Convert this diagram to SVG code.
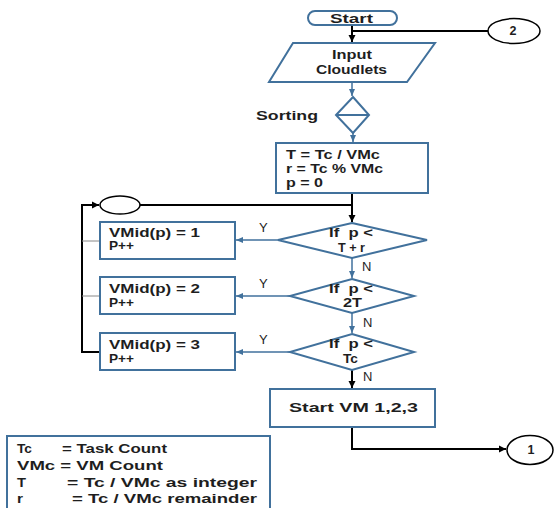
<svg xmlns="http://www.w3.org/2000/svg" width="554" height="508" viewBox="0 0 554 508">
<style>
.box{fill:#fff;stroke:#41719c;stroke-width:2}
.cn{fill:#fff;stroke:#000;stroke-width:1.5}
.t{font-family:"Liberation Sans",Arial,sans-serif;font-weight:bold;font-size:12.5px;fill:#1e1e1e}
.yn{font-family:"Liberation Sans",Arial,sans-serif;font-size:13px;fill:#1e1e1e}
.k{fill:none;stroke:#000;stroke-width:2}
.b{fill:none;stroke:#41719c;stroke-width:1.5}
.g{fill:none;stroke:#888;stroke-width:1}
</style>
<defs>
<marker id="ak" markerUnits="userSpaceOnUse" markerWidth="8" markerHeight="8" refX="7" refY="4" orient="auto"><path d="M0,0.5 L7,4 L0,7.5 z" fill="#000"/></marker>
<marker id="ab" markerUnits="userSpaceOnUse" markerWidth="8" markerHeight="8" refX="7" refY="4" orient="auto"><path d="M0,1 L7,4 L0,7 z" fill="#41719c"/></marker>
</defs>
<rect width="554" height="508" fill="#fff"/>
<g id="connectors">
<path class="k" d="M352,25 V42" marker-end="url(#ak)"/>
<path class="k" d="M488,31 H352"/>
<path class="b" d="M352,82 V96" marker-end="url(#ab)"/>
<path class="b" d="M353,133 V142" marker-end="url(#ab)"/>
<path class="k" d="M352,193 V222" marker-end="url(#ak)"/>
<path class="k" d="M140,205 H352"/>
<path class="k" d="M100,352 H82 V205 H99" marker-end="url(#ak)"/>
<path class="g" d="M82,241 H100 M82,296 H100"/>
<path class="b" d="M278,240 H236" marker-end="url(#ab)"/>
<path class="b" d="M290,296 H236" marker-end="url(#ab)"/>
<path class="b" d="M290,352 H236" marker-end="url(#ab)"/>
<path class="b" d="M352,258 V278" marker-end="url(#ab)"/>
<path class="b" d="M352,313 V333" marker-end="url(#ab)"/>
<path class="k" d="M352,370 V388" marker-end="url(#ak)"/>
<path class="k" d="M352,427 V449 H506" marker-end="url(#ak)"/>
<text class="yn" x="259" y="232">Y</text>
<text class="yn" x="259" y="288">Y</text>
<text class="yn" x="259" y="344">Y</text>
<text class="yn" x="362" y="271">N</text>
<text class="yn" x="363" y="327">N</text>
<text class="yn" x="363" y="381">N</text>
</g>
<g id="start">
<rect class="box" x="308" y="11" width="89" height="14" rx="7"/>
<text class="t" x="330" y="23" font-size="14" textLength="43" lengthAdjust="spacingAndGlyphs">Start</text>
</g>
<g id="conn2">
<ellipse class="cn" cx="514" cy="31" rx="26" ry="12.5"/>
<text class="t" x="513" y="35" font-size="13" text-anchor="middle">2</text>
</g>
<g id="input">
<path class="box" d="M293,43 H435 L407,82 H269 Z"/>
<text class="t" x="332" y="59" textLength="40" lengthAdjust="spacingAndGlyphs">Input</text>
<text class="t" x="316" y="74" textLength="71" lengthAdjust="spacingAndGlyphs">Cloudlets</text>
</g>
<g id="sorting">
<path class="box" d="M353,97 L369,115 L353,133 L336,115 Z M336,115 H369"/>
<text class="t" x="256" y="120" font-size="13" textLength="62" lengthAdjust="spacingAndGlyphs">Sorting</text>
</g>
<g id="init">
<rect class="box" x="276" y="143" width="152" height="50"/>
<text class="t" x="286" y="159" textLength="94" lengthAdjust="spacingAndGlyphs">T = Tc / VMc</text>
<text class="t" x="286" y="173" textLength="97" lengthAdjust="spacingAndGlyphs">r = Tc % VMc</text>
<text class="t" x="286" y="187" textLength="37" lengthAdjust="spacingAndGlyphs">p = 0</text>
</g>
<g id="merge">
<ellipse class="cn" cx="120" cy="205" rx="20" ry="9"/>
</g>
<g id="dec1">
<path class="box" d="M352,223 L427,240 L352,258 L278,240 Z"/>
<text class="t" x="329" y="237" textLength="44" lengthAdjust="spacingAndGlyphs">If&#160; p &lt;</text>
<text class="t" x="338" y="252" textLength="27" lengthAdjust="spacingAndGlyphs">T + r</text>
</g>
<g id="dec2">
<path class="box" d="M352,279 L414,296 L352,313 L290,296 Z"/>
<text class="t" x="329" y="293" textLength="44" lengthAdjust="spacingAndGlyphs">If&#160; p &lt;</text>
<text class="t" x="343" y="307" textLength="19" lengthAdjust="spacingAndGlyphs">2T</text>
</g>
<g id="dec3">
<path class="box" d="M352,334 L414,352 L352,370 L290,352 Z"/>
<text class="t" x="329" y="348" textLength="44" lengthAdjust="spacingAndGlyphs">If&#160; p &lt;</text>
<text class="t" x="343" y="363" textLength="15" lengthAdjust="spacingAndGlyphs">Tc</text>
</g>
<g id="vm1">
<rect class="box" x="100" y="222" width="135" height="37"/>
<text class="t" x="109" y="237" textLength="91" lengthAdjust="spacingAndGlyphs">VMid(p) = 1</text>
<text class="t" x="109" y="250" textLength="25" lengthAdjust="spacingAndGlyphs">P++</text>
</g>
<g id="vm2">
<rect class="box" x="100" y="277" width="135" height="37"/>
<text class="t" x="109" y="293" textLength="91" lengthAdjust="spacingAndGlyphs">VMid(p) = 2</text>
<text class="t" x="109" y="307" textLength="25" lengthAdjust="spacingAndGlyphs">P++</text>
</g>
<g id="vm3">
<rect class="box" x="100" y="333" width="135" height="37"/>
<text class="t" x="109" y="349" textLength="91" lengthAdjust="spacingAndGlyphs">VMid(p) = 3</text>
<text class="t" x="109" y="363" textLength="25" lengthAdjust="spacingAndGlyphs">P++</text>
</g>
<g id="startvm">
<rect class="box" x="270" y="389" width="165" height="38"/>
<text class="t" x="289" y="412" font-size="13" textLength="129" lengthAdjust="spacingAndGlyphs">Start VM 1,2,3</text>
</g>
<g id="conn1">
<ellipse class="cn" cx="530" cy="450" rx="23" ry="14.5"/>
<text class="t" x="531" y="454" font-size="13" text-anchor="middle">1</text>
</g>
<g id="legend">
<rect class="box" x="7" y="436" width="263" height="80"/>
<text class="t" x="17" y="453" textLength="15" lengthAdjust="spacingAndGlyphs">Tc</text>
<text class="t" x="62" y="453" textLength="105" lengthAdjust="spacingAndGlyphs">= Task Count</text>
<text class="t" x="17" y="470" textLength="146" lengthAdjust="spacingAndGlyphs">VMc = VM Count</text>
<text class="t" x="17" y="487" textLength="9" lengthAdjust="spacingAndGlyphs">T</text>
<text class="t" x="67" y="487" textLength="190" lengthAdjust="spacingAndGlyphs">= Tc / VMc as integer</text>
<text class="t" x="17" y="503" textLength="6" lengthAdjust="spacingAndGlyphs">r</text>
<text class="t" x="72" y="503" textLength="185" lengthAdjust="spacingAndGlyphs">= Tc / VMc remainder</text>
</g>
</svg>
